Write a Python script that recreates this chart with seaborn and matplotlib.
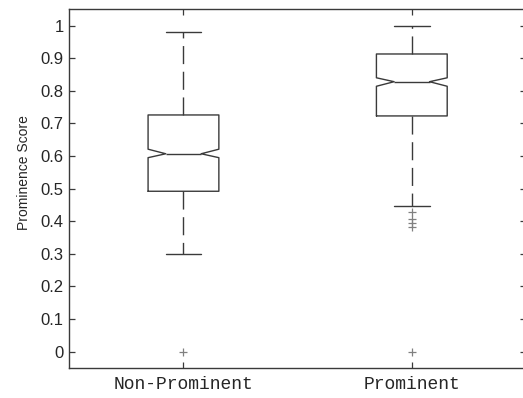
import matplotlib
matplotlib.use("Agg")
import matplotlib.pyplot as plt
import seaborn as sns

# summary statistics
categories = ["Non-Prominent", "Prominent"]
medians = [0.607, 0.828]
q1 = [0.492, 0.723]
q3 = [0.726, 0.913]
whisker_low = [0.300, 0.447]
whisker_high = [0.980, 1.000]
notch_low = [0.595, 0.814]
notch_high = [0.621, 0.840]
outliers = [[0.0], [0.427, 0.407, 0.395, 0.381, 0.0]]

yticks = [0, 0.1, 0.2, 0.3, 0.4, 0.5, 0.6, 0.7, 0.8, 0.9, 1]
ytick_labels = ["0", "0.1", "0.2", "0.3", "0.4", "0.5", "0.6", "0.7", "0.8", "0.9", "1"]

stats = []
for i, cat in enumerate(categories):
    stats.append(dict(label=cat, med=medians[i], q1=q1[i], q3=q3[i],
                      whislo=whisker_low[i], whishi=whisker_high[i],
                      cilo=notch_low[i], cihi=notch_high[i],
                      fliers=outliers[i], mean=medians[i]))

sns.set_style("ticks")
plt.rcParams["font.family"] = ["Liberation Sans", "DejaVu Sans"]

line_col = "#3a3a3a"
fig = plt.figure(figsize=(5.23, 3.98), dpi=100)
ax = fig.add_axes([0.1325, 0.0754, 0.8732, 0.9012])

# seaborn draws the boxes; stats passed straight through to bxp
sns.boxplot(x=categories, y=medians, ax=ax, notch=True, bxpstats=stats,
            width=0.31, fill=False, color=line_col, linecolor=line_col, linewidth=1.0,
            whiskerprops=dict(linestyle=(0, (13, 5.5))),
            flierprops=dict(marker="+", markersize=6, markeredgecolor="#808080",
                            markeredgewidth=0.9))

ax.set_xlim(-0.5, 1.5)
ax.set_ylim(-0.05, 1.05)
ax.set_yticks(yticks)
ax.set_yticklabels(ytick_labels, fontsize=12)
ax.set_xticks([0, 1])
ax.set_xticklabels(categories, fontsize=13, family=["Liberation Mono", "DejaVu Sans Mono"])
ax.tick_params(direction="in", top=True, right=True, length=4, width=0.9,
               color=line_col, pad=4)
ax.tick_params(axis="x", pad=6)
for sp in ax.spines.values():
    sp.set_visible(True)
    sp.set_color(line_col)
    sp.set_linewidth(1.0)

ax.set_xlabel("")
ax.set_ylabel("Prominence Score", fontsize=10)
ax.yaxis.set_label_coords(-0.084, 0.546)

fig.savefig("out.png", dpi=100)
